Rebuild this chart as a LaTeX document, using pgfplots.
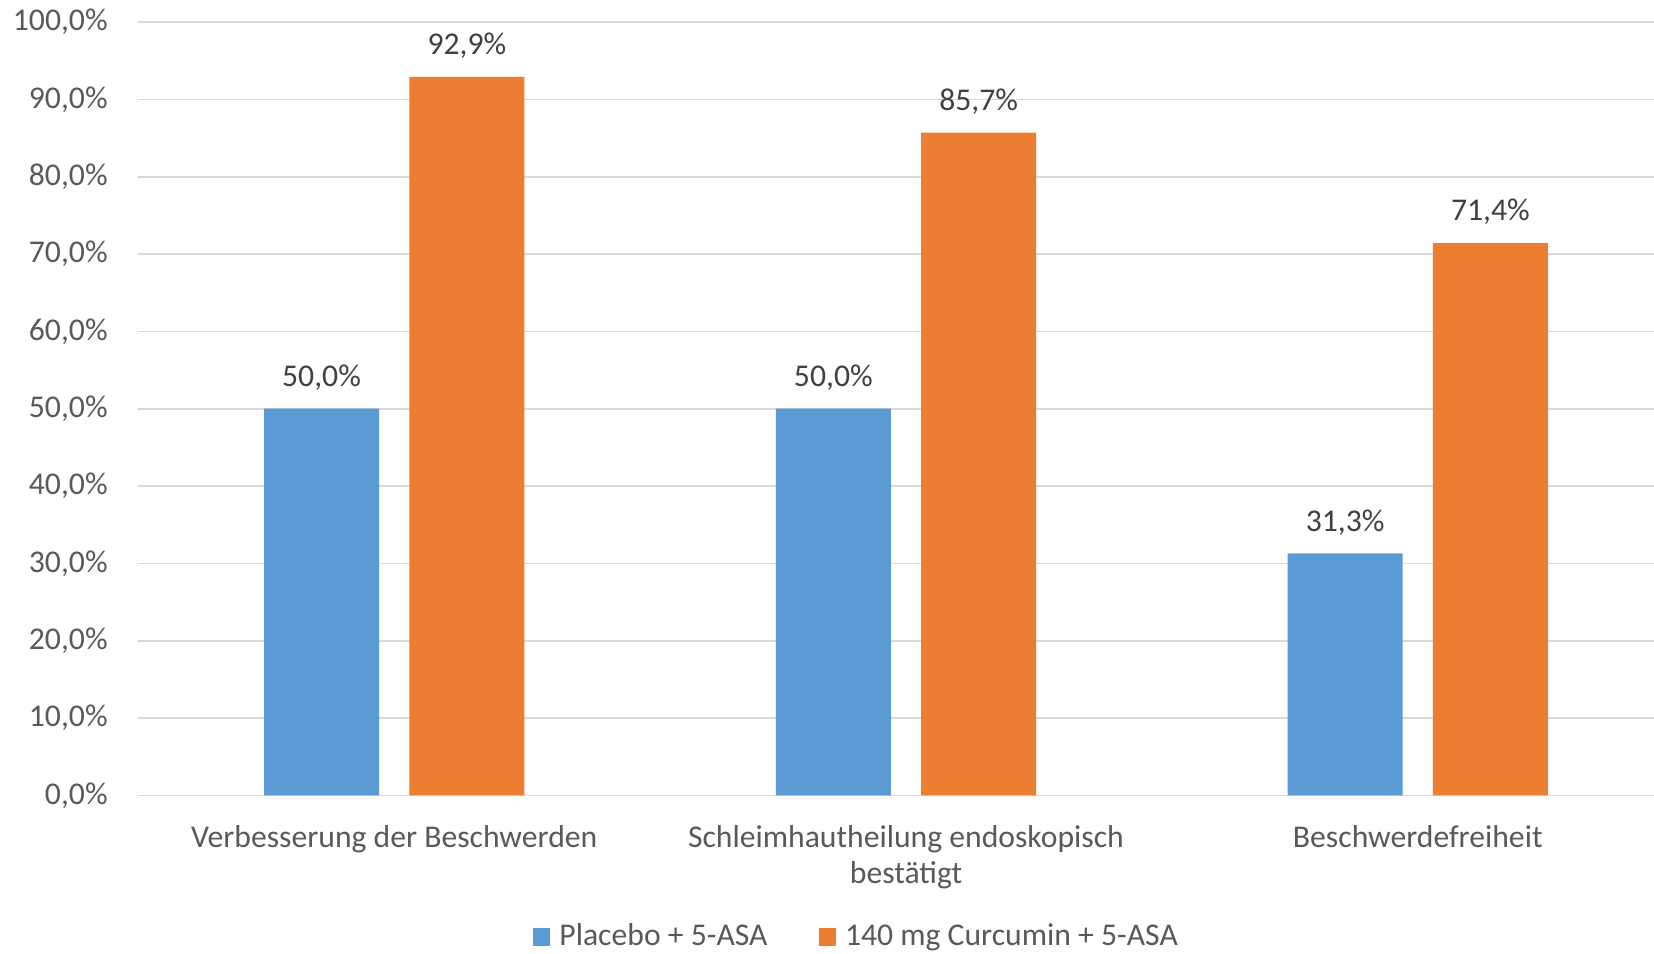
\documentclass[border=0pt]{standalone}
\usepackage{fontspec}
\setmainfont{Carlito}
\usepackage{pgfplots}
\pgfplotsset{compat=1.18}
\definecolor{cblue}{HTML}{5B9BD5}
\definecolor{corange}{HTML}{ED7D31}
\definecolor{cgrid}{HTML}{D9D9D9}
\definecolor{ctext}{HTML}{595959}
\definecolor{clabel}{HTML}{404040}
\begin{document}
\begin{tikzpicture}
\useasboundingbox (0,0) rectangle (496.2pt,286.2pt);
\begin{axis}[
  at={(41.49pt,47.55pt)}, anchor=south west,
  scale only axis, width=460.62pt, height=232.05pt,
  xmin=-0.5, xmax=2.5, ymin=0, ymax=100,
  ybar=9.1pt, bar width=34.5pt,
  ytick={0,10,...,100},
  ymajorgrids, grid style={cgrid, line width=0.5pt},
  axis line style={draw=none},
  major tick length=0pt,
  /pgf/number format/assume math mode=true,
  yticklabel={\pgfmathprintnumber[fixed,fixed zerofill,precision=1,use comma]{\tick}\%},
  y tick label style={font=\fontsize{9.5}{11}\selectfont, text=ctext, anchor=base east, inner sep=0pt, xshift=-9pt, yshift=-2.6pt},
  xtick={0,1,2},
  xticklabels={\rule{0pt}{7.5pt}Verbesserung der Beschwerden,{\rule{0pt}{7.5pt}Schleimhautheilung endoskopisch\\bestätigt},\rule{0pt}{7.5pt}Beschwerdefreiheit},
  x tick label style={font=\fontsize{9.5}{10.8}\selectfont, text=ctext, align=center, anchor=north, inner sep=0pt, yshift=-7.86pt},
  nodes near coords={\pgfmathprintnumber[fixed,fixed zerofill,precision=1,use comma]{\pgfplotspointmeta}\%},
  nodes near coords style={font=\fontsize{9.5}{11}\selectfont, text=clabel, anchor=south, inner sep=0pt, text depth=0pt, yshift=6.5pt},
  legend columns=2,
  legend cell align=left,
  legend image code/.code={\fill[#1] (0pt,-2.55pt) rectangle (5.25pt,2.65pt);},
  legend style={at={(0.2566,-0.2036)}, anchor=south west, draw=none, fill=none, inner sep=0pt,
    font=\fontsize{9.5}{11}\selectfont, text=ctext,
    nodes={inner sep=0pt, text height=7pt, text depth=2pt},
    /tikz/every odd column/.append style={column sep=2.7pt},
    /tikz/every even column/.append style={column sep=15.3pt}},
]
\addplot[fill=cblue, draw=none] coordinates {(0,50) (1,50) (2,31.3)};
\addplot[fill=corange, draw=none] coordinates {(0,92.9) (1,85.7) (2,71.4)};
\legend{Placebo + 5-ASA, 140 mg Curcumin + 5-ASA}
\end{axis}
\end{tikzpicture}
\end{document}
